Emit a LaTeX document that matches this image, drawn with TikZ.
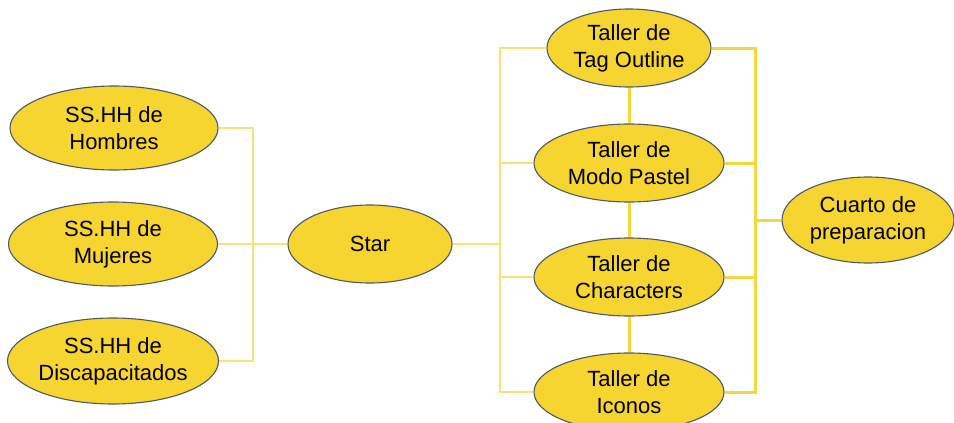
\documentclass[tikz,border=0pt]{standalone}
\usepackage{fontspec}
\setmainfont{Liberation Sans}
\usetikzlibrary{shapes.geometric}

\definecolor{relleno}{HTML}{F6D530}
\definecolor{borde}{HTML}{505868}
\definecolor{lineaclara}{HTML}{FBE07A}
\definecolor{lineafuerte}{HTML}{F7D63C}

\tikzset{
  sala/.style={ellipse, draw=borde, line width=1.1pt, fill=relleno, inner sep=0pt,
    align=center, font=\fontsize{22}{27}\selectfont},
  enlace/.style={draw=lineaclara, line width=1.4pt},
  enlacegrueso/.style={draw=lineafuerte, line width=3pt}
}

\begin{document}
\begin{tikzpicture}[x=1pt, y=-1pt]
        \useasboundingbox (0,0) rectangle (954,423);
        % salas de la izquierda
        \node[sala, minimum width=208pt, minimum height=84pt] (hombres) at (114,128) {SS.HH de\\Hombres};
        \node[sala, minimum width=209pt, minimum height=84pt] (mujeres) at (113,244) {SS.HH de\\Mujeres};
        \node[sala, minimum width=210pt, minimum height=86pt] (discap) at (113,361) {SS.HH de\\Discapacitados};
        \node[sala, minimum width=164pt, minimum height=78pt] (star) at (370,244) {Star};
        % talleres
        \node[sala, minimum width=164pt, minimum height=78pt] (tag) at (629,48) {Taller de\\Tag Outline};
        \node[sala, minimum width=190pt, minimum height=78pt] (pastel) at (629,163) {Taller de\\Modo Pastel};
        \node[sala, minimum width=190pt, minimum height=78pt] (chars) at (629,277) {Taller de\\Characters};
        \node[sala, minimum width=190pt, minimum height=78pt] (iconos) at (629,392) {Taller de\\Iconos};
        \node[sala, minimum width=172pt, minimum height=86pt] (cuarto) at (868,220) {Cuarto de\\preparacion};
        \coordinate (busL) at (253,244);
        \coordinate (busM) at (500,244);
        \coordinate (busR) at (755,220);
        % conexiones
        \draw[enlace] (hombres.east) -| (busL) |- (discap.east);
        \draw[enlace] (mujeres.east) -- (star.west);
        \draw[enlace] (star.east) -- (busM);
        \draw[enlace] (tag.west) -| (busM) |- (iconos.west);
        \draw[enlace] (pastel.west) -| (busM) |- (chars.west);
        \draw[enlacegrueso] (tag.south) -- (pastel.north);
        \draw[enlacegrueso] (pastel.south) -- (chars.north);
        \draw[enlacegrueso] (chars.south) -- (iconos.north);
        \draw[enlacegrueso] (tag.east) -| (busR) |- (iconos.east);
        \draw[enlacegrueso] (pastel.east) -| (busR) |- (chars.east);
        \draw[enlacegrueso] (busR) -- (cuarto.west);
      \end{tikzpicture}
\end{document}
